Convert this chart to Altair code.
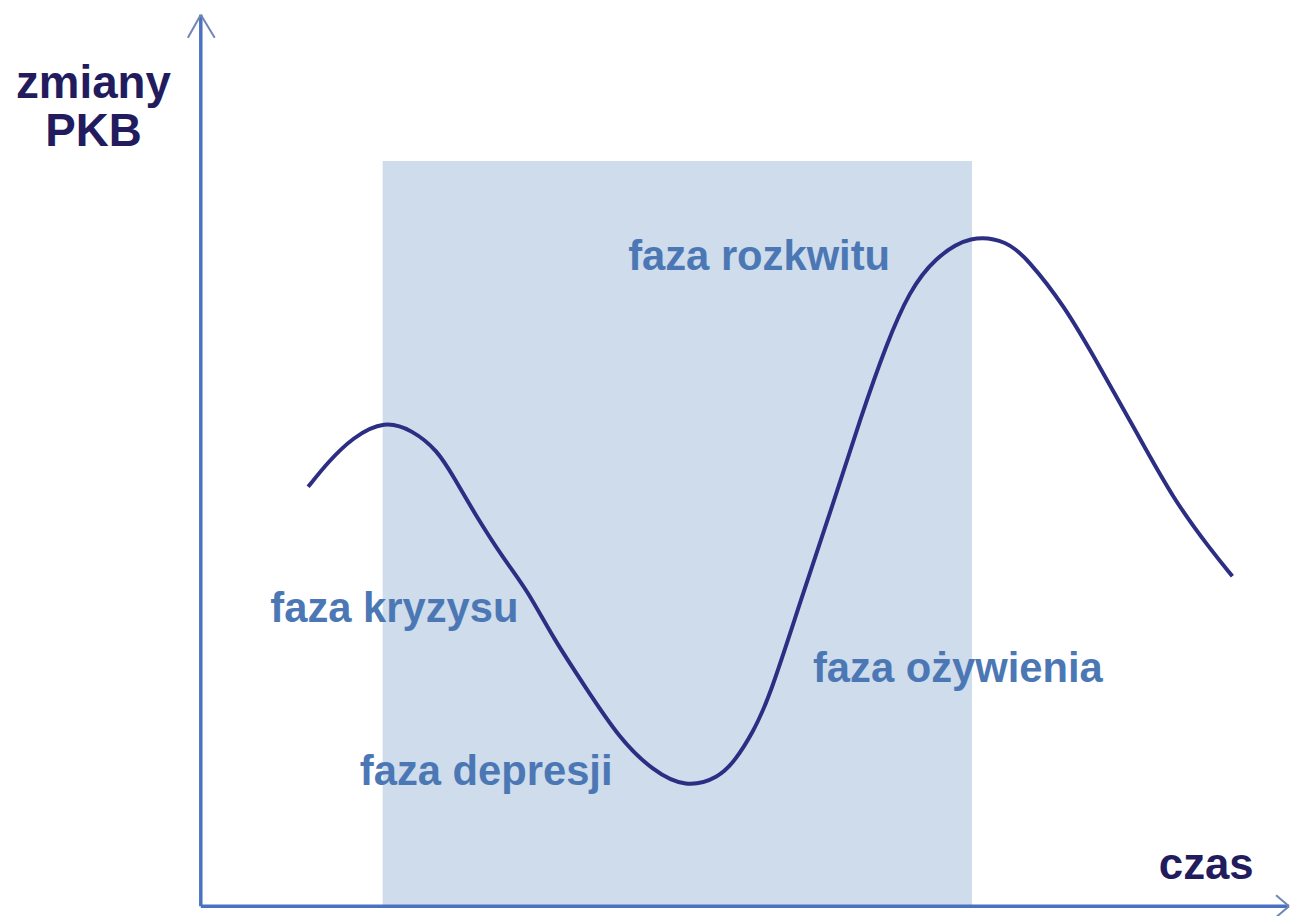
import altair as alt
import pandas as pd

# Business-cycle curve (time, GDP change)
curve_t = [10.8, 12.8, 15.3, 18.5, 21.3, 23.8, 25.5, 27.5, 30.5, 32.8, 35.5, 38.8,
           42.1, 45.5, 48.8, 52.1, 53.8, 55.5, 57.2, 60.4, 63.6, 66.4, 69.0, 71.3,
           73.8, 77.5, 81.2, 83.1, 86.8, 90.5, 94.2, 97.9, 101.6, 103.8]
curve_g = [42.2, 44.7, 47.2, 48.9, 47.9, 45.9, 43.1, 39.6, 34.9, 31.9, 26.9, 21.9,
           16.9, 13.6, 11.9, 12.9, 14.7, 17.4, 20.9, 30.9, 40.4, 49.2, 56.6, 61.9,
           65.2, 67.6, 66.9, 65.2, 60.6, 54.2, 47.6, 40.9, 35.9, 33.2]

# Shaded band (one full cycle, peak to peak)
band_t = [18.3]
band_t2 = [77.6]
band_g = [0.0]
band_g2 = [75.0]

# Axis arrows (segments)
axis_x = [0.0, 0.0]
axis_x2 = [0.0, 109.5]
axis_y = [0.0, 0.0]
axis_y2 = [89.7, 0.0]

head_x = [-1.3, 1.4, 108.2, 108.2]
head_x2 = [0.0, 0.0, 109.5, 109.5]
head_y = [87.4, 87.4, 1.1, -1.1]
head_y2 = [89.7, 89.7, 0.0, 0.0]

# Phase labels
phase_text = ["faza rozkwitu", "faza kryzysu", "faza ożywienia", "faza depresji"]
phase_t = [43.0, 7.0, 61.6, 16.0]
phase_g = [64.0, 28.6, 22.6, 12.2]

# Axis titles
title_text = ["zmiany", "PKB"]
title_t = [-10.8, -10.8]
title_g = [81.3, 76.5]
xtitle_text = ["czas"]
xtitle_t = [96.4]
xtitle_g = [2.7]

xs = alt.Scale(domain=[-19.4, 108.9], nice=False, zero=False)
ys = alt.Scale(domain=[-0.7, 90.1], nice=False, zero=False)

curve_df = pd.DataFrame({"t": curve_t, "g": curve_g})
band_df = pd.DataFrame({"t": band_t, "t2": band_t2, "g": band_g, "g2": band_g2})
axis_df = pd.DataFrame({"x": axis_x, "x2": axis_x2, "y": axis_y, "y2": axis_y2})
head_df = pd.DataFrame({"x": head_x, "x2": head_x2, "y": head_y, "y2": head_y2})
phase_df = pd.DataFrame({"text": phase_text, "t": phase_t, "g": phase_g})
title_df = pd.DataFrame({"text": title_text, "t": title_t, "g": title_g})
xtitle_df = pd.DataFrame({"text": xtitle_text, "t": xtitle_t, "g": xtitle_g})

band = alt.Chart(band_df).mark_rect(color="#cfdcec").encode(
    x=alt.X("t:Q", scale=xs, axis=None),
    x2="t2:Q",
    y=alt.Y("g:Q", scale=ys, axis=None),
    y2="g2:Q",
)

axes = alt.Chart(axis_df).mark_rule(color="#4a72c0", strokeWidth=3.5).encode(
    x=alt.X("x:Q", scale=xs, axis=None),
    x2="x2:Q",
    y=alt.Y("y:Q", scale=ys, axis=None),
    y2="y2:Q",
)

heads = alt.Chart(head_df).mark_rule(color="#6d86b4", strokeWidth=2).encode(
    x=alt.X("x:Q", scale=xs, axis=None),
    x2="x2:Q",
    y=alt.Y("y:Q", scale=ys, axis=None),
    y2="y2:Q",
)

line = alt.Chart(curve_df).mark_line(
    color="#2b2e82", strokeWidth=4, interpolate="basis"
).encode(
    x=alt.X("t:Q", scale=xs, axis=None),
    y=alt.Y("g:Q", scale=ys, axis=None),
    order="t:Q",
)

phases = alt.Chart(phase_df).mark_text(
    align="left", baseline="alphabetic", fontSize=42, fontWeight="bold",
    font="Liberation Sans", color="#4b78b4",
).encode(
    x=alt.X("t:Q", scale=xs, axis=None),
    y=alt.Y("g:Q", scale=ys, axis=None),
    text="text:N",
)

ytitle = alt.Chart(title_df).mark_text(
    align="center", baseline="alphabetic", fontSize=46, fontWeight="bold",
    font="Liberation Sans", color="#221c5e",
).encode(
    x=alt.X("t:Q", scale=xs, axis=None),
    y=alt.Y("g:Q", scale=ys, axis=None),
    text="text:N",
)

xtitle = alt.Chart(xtitle_df).mark_text(
    align="left", baseline="alphabetic", fontSize=44, fontWeight="bold",
    font="Liberation Sans", color="#221c5e",
).encode(
    x=alt.X("t:Q", scale=xs, axis=None),
    y=alt.Y("g:Q", scale=ys, axis=None),
    text="text:N",
)

chart = alt.layer(band, axes, heads, line, phases, ytitle, xtitle).properties(
    width=1283,
    height=908,
    padding={"left": 0, "top": 0, "right": 8, "bottom": 0},
    autosize=alt.AutoSizeParams(type="none"),
    background="white",
).configure_view(stroke=None)

chart.save("out.html", embed_options={"renderer": "svg", "actions": False})
